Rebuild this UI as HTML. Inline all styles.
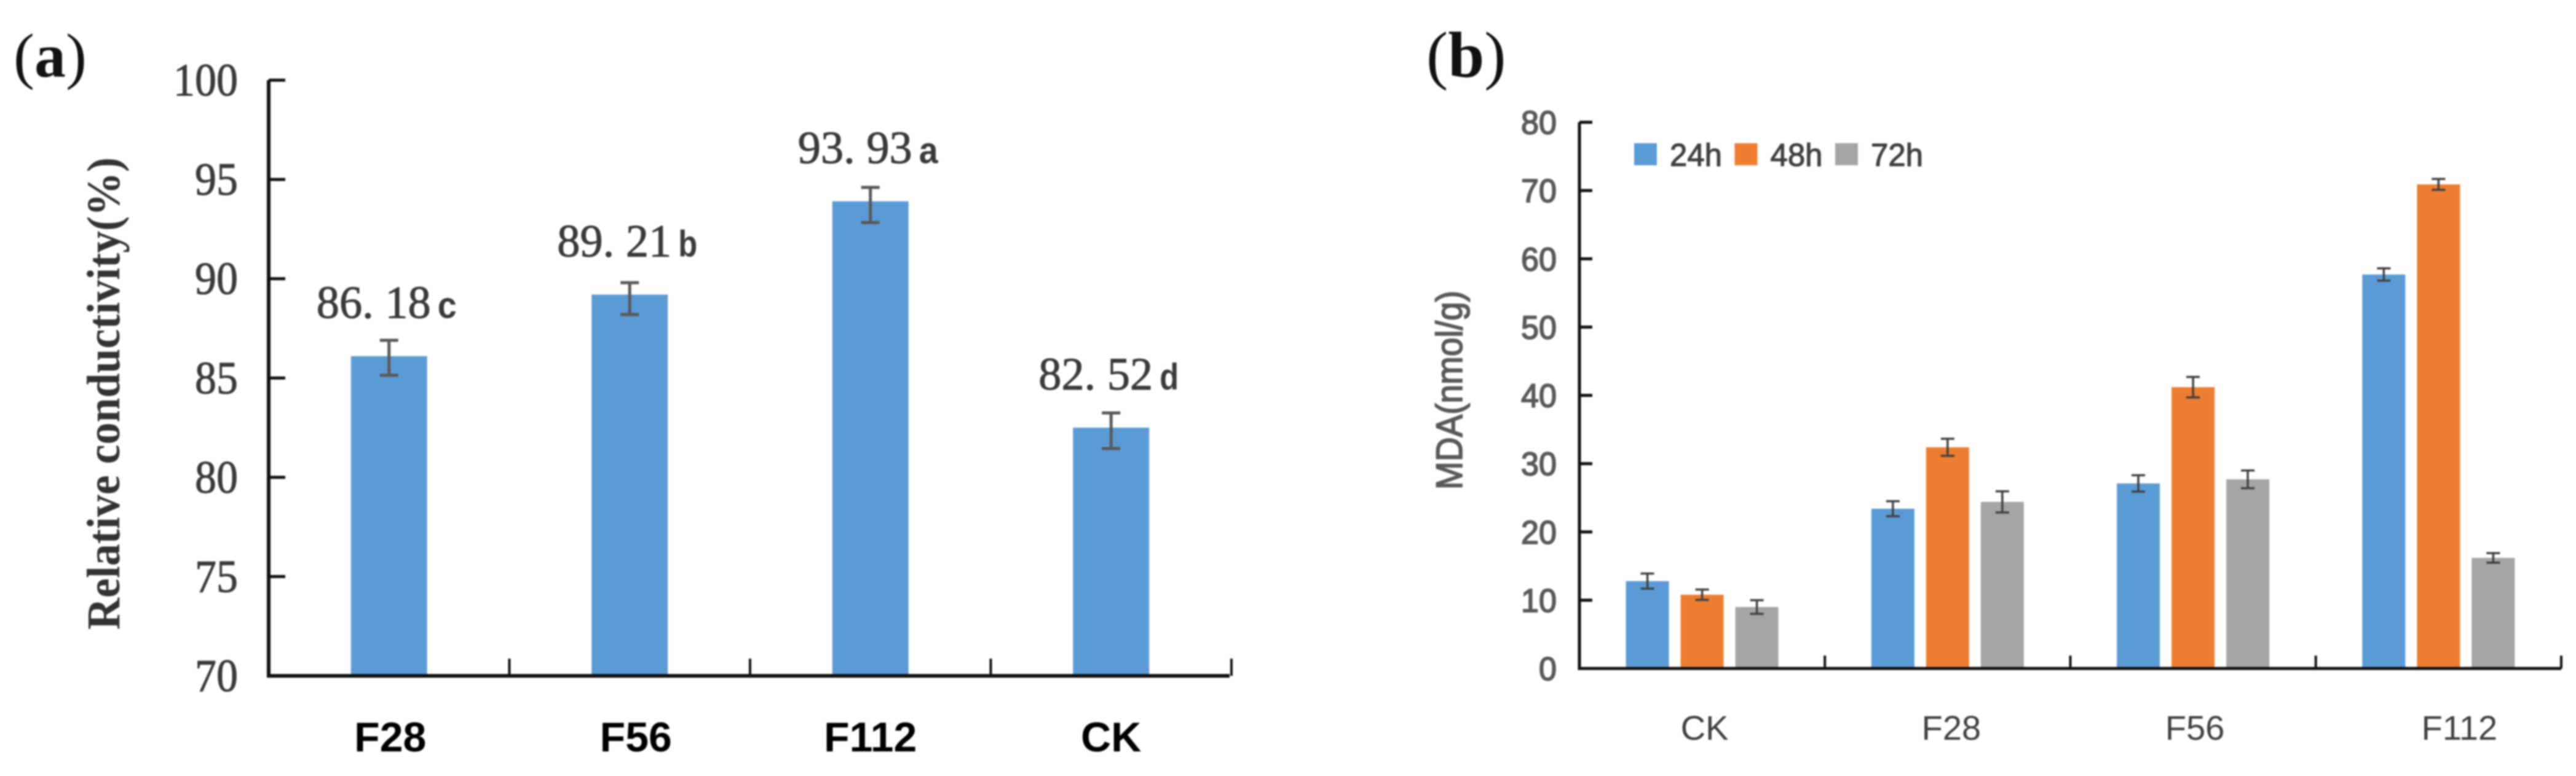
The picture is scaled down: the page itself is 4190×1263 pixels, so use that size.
<!DOCTYPE html>
<html lang="en">
<head>
<meta charset="utf-8">
<title>Relative conductivity and MDA charts</title>
<style>
html,body{margin:0;padding:0;background:#fff;width:4190px;height:1263px;overflow:hidden}
svg{display:block;filter:blur(1.2px)}
.serif{font-family:"Liberation Serif",serif}
.sans{font-family:"Liberation Sans",sans-serif}
</style>
</head>
<body>
<svg id="figure" xmlns="http://www.w3.org/2000/svg" width="4190" height="1263" viewBox="0 0 4190 1263">
  <rect x="0" y="0" width="4190" height="1263" fill="#fff"/>

  <g id="panel-a">
    <text class="serif" x="22" y="125" font-size="102" fill="#111">(<tspan font-weight="bold">a</tspan>)</text>
    <text class="serif" font-weight="bold" font-size="76" fill="#333" transform="translate(194,1025) rotate(-90)" textLength="769" lengthAdjust="spacingAndGlyphs">Relative conductivity(%)</text>
  </g>

  <g id="panel-b">
    <text class="serif" x="2320" y="125" font-size="106" fill="#111">(<tspan font-weight="bold">b</tspan>)</text>
    <text class="sans" font-size="60" fill="#595959" stroke="#595959" stroke-width="1.8" transform="translate(2378,797) rotate(-90)" textLength="324" lengthAdjust="spacingAndGlyphs">MDA(nmol/g)</text>
  </g>
</svg>

<script>
// ---------- Panel (a) data ----------
const aCategories = ['F28', 'F56', 'F112', 'CK'];
const aValues = [86.1, 89.2, 93.9, 82.5];
const aErrUp = [0.8, 0.6, 0.7, 0.74];
const aErrDown = [0.96, 1.0, 1.07, 1.05];
const aPrinted = ['86. 18', '89. 21', '93. 93', '82. 52'];
const aLetters = ['c', 'b', 'a', 'd'];
const aTicks = [70, 75, 80, 85, 90, 95, 100];

// ---------- Panel (b) data ----------
const bCategories = ['CK', 'F28', 'F56', 'F112'];
const bSeriesNames = ['24h', '48h', '72h'];
const b24h = [12.8, 23.4, 27.1, 57.7];
const b48h = [10.8, 32.4, 41.2, 70.9];
const b72h = [9.0, 24.4, 27.7, 16.2];
const b24hErr = [1.1, 1.1, 1.2, 0.9];
const b48hErr = [0.76, 1.25, 1.5, 0.8];
const b72hErr = [1.0, 1.55, 1.3, 0.7];
const bTicks = [0, 10, 20, 30, 40, 50, 60, 70, 80];

// ---------- Helpers ----------
const NS = 'http://www.w3.org/2000/svg';
const panelA = document.getElementById('panel-a');
const panelB = document.getElementById('panel-b');
function mk(parent, tag, attrs, txt) {
  const n = document.createElementNS(NS, tag);
  for (const k in attrs) n.setAttribute(k, attrs[k]);
  if (txt !== undefined) n.textContent = txt;
  parent.appendChild(n);
  return n;
}

// ---------- Panel (a) axes ----------
const aLeft = 437, aRight = 2000, aBottom = 1100, aTop = 130.5, aStep = 391.5;
const aMin = 70, aMax = 100;
function ya(v) { return aBottom - (v - aMin) * (aBottom - aTop) / (aMax - aMin); }
function xa(i) { return aLeft + aStep * (i + 0.5); }
const aNudge = { F56: 10, F28: 2 };

aCategories.forEach(function (c, i) {
  const cx = xa(i), top = ya(aValues[i]);
  let el = mk(panelA, 'rect', { x: cx - 62, y: top, width: 124, height: aBottom - top, fill: '#5B9BD5' });
  
  

  const hi = ya(aValues[i] + aErrUp[i]), lo = ya(aValues[i] - aErrDown[i]);
  el = mk(panelA, 'path', {
    d: 'M' + (cx - 15) + ' ' + hi + 'H' + (cx + 15) + 'M' + cx + ' ' + hi + 'V' + lo + 'M' + (cx - 15) + ' ' + lo + 'H' + (cx + 15),
    stroke: '#595959', 'stroke-width': 5, fill: 'none'
  });
  
  

  el = mk(panelA, 'text', { x: cx - 118, y: top - 62, 'font-size': 75, fill: '#3a3a3a', stroke: '#3a3a3a', 'stroke-width': 1, 'font-family': '"Liberation Serif",serif', 'xml:space': 'preserve', textLength: 186, lengthAdjust: 'spacingAndGlyphs' }, aPrinted[i]);
  
  

  el = mk(panelA, 'text', { x: cx + 79, y: top - 62, 'font-size': 60, 'font-weight': 'bold', fill: '#3a3a3a', 'font-family': '"Liberation Sans",sans-serif', textLength: 31, lengthAdjust: 'spacingAndGlyphs' }, aLetters[i]);
  
  

  el = mk(panelA, 'text', { x: cx + (aNudge[c] || 0), y: 1223, 'font-size': 68, 'font-weight': 'bold', fill: '#000', 'text-anchor': 'middle', 'font-family': '"Liberation Sans",sans-serif' }, c);
  
  

  el = mk(panelA, 'line', { x1: aLeft + aStep * (i + 1), x2: aLeft + aStep * (i + 1), y1: aBottom - 28, y2: aBottom, stroke: '#111', 'stroke-width': 4 });
  
  
});

aTicks.forEach(function (t) {
  let el = mk(panelA, 'line', { x1: aLeft, x2: aLeft + 27, y1: ya(t), y2: ya(t), stroke: '#111', 'stroke-width': 5 });
  
  

  const label = String(t);
  el = mk(panelA, 'text', { x: 387, y: ya(t) + 25, 'font-size': 75, fill: '#3a3a3a', stroke: '#3a3a3a', 'stroke-width': 1, 'text-anchor': 'end', 'font-family': '"Liberation Serif",serif', textLength: 35 * label.length, lengthAdjust: 'spacingAndGlyphs' }, label);
  
  
});

let axisA = mk(panelA, 'path', { d: 'M' + aLeft + ' ' + aTop + 'V' + aBottom + 'H' + aRight, stroke: '#111', 'stroke-width': 6, fill: 'none' });



// ---------- Panel (b) axes ----------
const bLeft = 2569, bStep = 399.25, bBottom = 1088, bTop = 199;
const bMin = 0, bMax = 80, bBarW = 70, bBarGap = 89;
const bColors = ['#5B9BD5', '#ED7D31', '#A5A5A5'];
const bSeries = [b24h, b48h, b72h];
const bErrors = [b24hErr, b48hErr, b72hErr];
function yb(v) { return bBottom - (v - bMin) * (bBottom - bTop) / (bMax - bMin); }
function xb(i) { return bLeft + bStep * (i + 0.5); }
const bNudge = { CK: 4, F28: 6, F56: 3, F112: 34 };

bSeries.forEach(function (vals, s) {
  vals.forEach(function (v, i) {
    const cx = xb(i) + (s - 1) * bBarGap, top = yb(v);
    let el = mk(panelB, 'rect', { x: cx - bBarW / 2, y: top, width: bBarW, height: bBottom - top, fill: bColors[s] });
    
    

    const e = bErrors[s][i], hi = yb(v + e), lo = yb(v - e);
    el = mk(panelB, 'path', {
      d: 'M' + (cx - 11) + ' ' + hi + 'H' + (cx + 11) + 'M' + cx + ' ' + hi + 'V' + lo + 'M' + (cx - 11) + ' ' + lo + 'H' + (cx + 11),
      stroke: '#404040', 'stroke-width': 3.5, fill: 'none'
    });
    
    
  });
});

bCategories.forEach(function (c, i) {
  let el = mk(panelB, 'text', { x: xb(i) + (bNudge[c] || 0), y: 1204, 'font-size': 56, fill: '#404040', 'text-anchor': 'middle', 'font-family': '"Liberation Sans",sans-serif' }, c);
  
  

  el = mk(panelB, 'line', { x1: bLeft + bStep * (i + 1), x2: bLeft + bStep * (i + 1), y1: bBottom - 21, y2: bBottom, stroke: '#111', 'stroke-width': 4 });
  
  
});

bTicks.forEach(function (t) {
  let el = mk(panelB, 'line', { x1: bLeft, x2: bLeft + 21, y1: yb(t), y2: yb(t), stroke: '#111', 'stroke-width': 5 });
  
  

  const label = String(t);
  el = mk(panelB, 'text', { x: 2532, y: yb(t) + 19, 'font-size': 54, fill: '#595959', stroke: '#595959', 'stroke-width': 1.8, 'text-anchor': 'end', 'font-family': '"Liberation Sans",sans-serif', textLength: 29 * label.length, lengthAdjust: 'spacingAndGlyphs' }, label);
  
  
});

let axisB = mk(panelB, 'path', { d: 'M' + bLeft + ' ' + bTop + 'V' + bBottom + 'H' + (bLeft + 4 * bStep), stroke: '#111', 'stroke-width': 5, fill: 'none' });



// ---------- Legend ----------
const legendG = mk(panelB, 'g', {});


bSeriesNames.forEach(function (n, s) {
  const lx = 2658 + s * 163.5;
  let el = mk(legendG, 'rect', { x: lx, y: 233, width: 37, height: 36, fill: bColors[s] });
  
  

  el = mk(legendG, 'text', { x: lx + 58, y: 270, 'font-size': 52, fill: '#404040', stroke: '#404040', 'stroke-width': 1.2, 'font-family': '"Liberation Sans",sans-serif', textLength: 85, lengthAdjust: 'spacingAndGlyphs' }, n);
  
  
});
</script>
</body>
</html>
